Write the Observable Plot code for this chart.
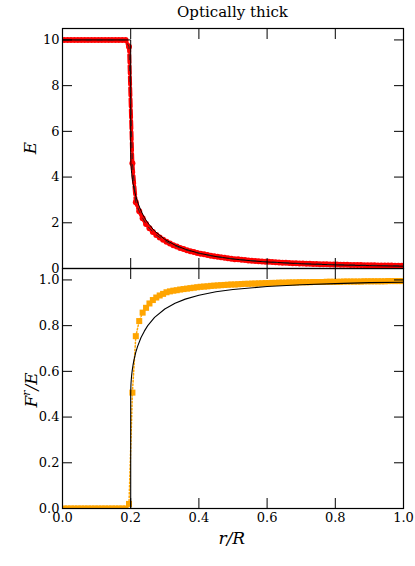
<!DOCTYPE html>
<html><head><meta charset="utf-8">
<script src="https://cdn.jsdelivr.net/npm/d3@7"></script>
<script src="https://cdn.jsdelivr.net/npm/@observablehq/plot@0.6"></script>
<style>
body{margin:0;background:#fff;}
#wrap{position:relative;width:415px;height:566px;font-family:"DejaVu Serif","Liberation Serif",serif;color:#000;overflow:hidden;}
#title{position:absolute;left:62px;width:341px;top:3px;text-align:center;font-size:15px;}
.lab{position:absolute;font-style:italic;font-size:17px;white-space:nowrap;transform-origin:center;}
#p1,#p2{position:absolute;left:0;}
#p1{top:0;z-index:2;}
#p2{top:268px;z-index:1;}
</style></head>
<body><div id="wrap">
<div id="title">Optically thick</div>
<div id="p2"></div>
<div id="p1"></div>
<div class="lab" id="ly1">E</div>
<div class="lab" id="ly2">F<span style="font-size:11px;position:relative;top:-7px">r</span>/E</div>
<div class="lab" id="lx">r/R</div>
</div>
<script>
// numerical solution grid (cell centres)
const rGrid = [0.005,0.015,0.025,0.035,0.045,0.055,0.065,0.075,0.085,0.095,
0.105,0.115,0.125,0.135,0.145,0.155,0.165,0.175,0.185,0.195,
0.205,0.215,0.225,0.235,0.245,0.255,0.265,0.275,0.285,0.295,
0.305,0.315,0.325,0.335,0.345,0.355,0.365,0.375,0.385,0.395,
0.405,0.415,0.425,0.435,0.445,0.455,0.465,0.475,0.485,0.495,
0.505,0.515,0.525,0.535,0.545,0.555,0.565,0.575,0.585,0.595,
0.605,0.615,0.625,0.635,0.645,0.655,0.665,0.675,0.685,0.695,
0.705,0.715,0.725,0.735,0.745,0.755,0.765,0.775,0.785,0.795,
0.805,0.815,0.825,0.835,0.845,0.855,0.865,0.875,0.885,0.895,
0.905,0.915,0.925,0.935,0.945,0.955,0.965,0.975,0.985,0.995];
// numerical E
const eNum = [10,10,10,10,10,10,10,10,10,10,
10,10,10,10,10,10,10,10,10,9.7,
4.6,2.9,2.5,2.2,1.95,1.76,1.6,1.47,1.36,1.26,
1.17,1.09,1.02,0.96,0.90,0.85,0.80,0.76,0.72,0.68,
0.65,0.62,0.59,0.56,0.54,0.51,0.49,0.47,0.45,0.43,
0.41,0.40,0.38,0.37,0.355,0.34,0.33,0.32,0.31,0.30,
0.29,0.28,0.27,0.26,0.255,0.248,0.24,0.234,0.228,0.222,
0.216,0.211,0.206,0.201,0.196,0.191,0.187,0.182,0.178,0.174,
0.170,0.167,0.163,0.160,0.157,0.154,0.151,0.148,0.145,0.143,
0.140,0.138,0.135,0.133,0.131,0.129,0.127,0.125,0.123,0.121];
// numerical F^r/E
const fNum = [0,0,0,0,0,0,0,0,0,0,
0,0,0,0,0,0,0,0,0,0.02,
0.507,0.754,0.82,0.857,0.878,0.897,0.912,0.923,0.932,0.939,
0.946,0.950,0.953,0.955,0.958,0.960,0.962,0.964,0.966,0.968,
0.970,0.971,0.972,0.974,0.975,0.976,0.977,0.978,0.979,0.980,
0.980,0.981,0.982,0.983,0.983,0.984,0.984,0.985,0.985,0.986,
0.986,0.987,0.987,0.988,0.988,0.988,0.989,0.989,0.989,0.990,
0.990,0.990,0.990,0.991,0.991,0.991,0.991,0.992,0.992,0.992,
0.992,0.992,0.993,0.993,0.993,0.993,0.993,0.993,0.994,0.994,
0.994,0.994,0.994,0.994,0.994,0.995,0.995,0.995,0.995,0.995];
// exact solution
const rExact = [0,0.2,0.2,0.2005,0.201,0.202,0.203,0.205,0.207,0.21,0.215,0.22,0.23,0.24,0.25,0.27,0.3,0.33,0.36,0.4,0.45,0.5,0.55,0.6,0.7,0.8,0.9,1.0];
const eExact = [10,10,5,4.647,4.502,4.298,4.144,3.902,3.711,3.476,3.165,2.917,2.531,2.236,2.0,1.641,1.273,1.023,0.842,0.670,0.521,0.417,0.342,0.286,0.208,0.159,0.125,0.101];
const fExact = [0,0,0.5,0.535,0.550,0.570,0.586,0.610,0.629,0.652,0.684,0.708,0.747,0.776,0.800,0.836,0.873,0.898,0.916,0.933,0.948,0.958,0.965,0.971,0.979,0.984,0.988,0.990];

const xTicks = [0,0.2,0.4,0.6,0.8,1.0];
const eTicks = [0,2,4,6,8,10];
const fTicks = [0,0.2,0.4,0.6,0.8,1.0];

const num = rGrid.map((r,i)=>({r, E:eNum[i], F:fNum[i]}));
const ex = rExact.map((r,i)=>({r, E:eExact[i], F:fExact[i]}));
const fmt = d3.format(".1f");

const common = {width:415, marginLeft:62, marginRight:12,
  style:{fontFamily:'"DejaVu Serif", "Liberation Serif", serif', fontSize:"13px", overflow:"visible", background:"transparent", color:"black"}};

const p1 = Plot.plot({...common, height:268, marginTop:28, marginBottom:0,
  x:{domain:[0,1]}, y:{domain:[0,10.5]},
  marks:[
    Plot.line(num,{x:"r",y:"E",stroke:"red",strokeWidth:4,strokeDasharray:"8,3",clip:true}),
    Plot.dot(num,{x:"r",y:"E",fill:"red",r:3,clip:true}),
    Plot.line(ex,{x:"r",y:"E",stroke:"black",strokeWidth:1,clip:true}),
    Plot.line(num,{x:"r",y:"E",stroke:"#222",strokeWidth:0.9,strokeDasharray:"5,6",clip:true}),
    Plot.frame({stroke:"black",strokeWidth:1.2}),
    Plot.axisX(xTicks,{anchor:"bottom",tickSize:-10,fill:null,label:null}),
    Plot.axisX(xTicks,{anchor:"top",tickSize:-10,fill:null,label:null}),
    Plot.axisY(eTicks,{anchor:"left",tickSize:-10,fill:null,label:null}),
    Plot.axisY(eTicks,{anchor:"right",tickSize:-10,fill:null,label:null}),
    Plot.axisY(eTicks,{anchor:"left",tickSize:0,tickPadding:3,label:null})
  ]});
document.getElementById("p1").appendChild(p1);

const p2 = Plot.plot({...common, height:298, marginTop:0, marginBottom:58,
  x:{domain:[0,1]}, y:{domain:[0,1.05]},
  marks:[
    Plot.line(num,{x:"r",y:"F",stroke:"orange",strokeWidth:1.5,strokeDasharray:"1.5,2",clip:true}),
    Plot.dot(num,{x:"r",y:"F",fill:"orange",symbol:"square",r:3.4,clip:true}),
    Plot.line(ex,{x:"r",y:"F",stroke:"black",strokeWidth:1.1,clip:true}),
    Plot.frame({stroke:"black",strokeWidth:1.2}),
    Plot.axisX(xTicks,{anchor:"bottom",tickSize:-10,fill:null,label:null}),
    Plot.axisX(xTicks,{anchor:"top",tickSize:-10,fill:null,label:null}),
    Plot.axisY(fTicks,{anchor:"left",tickSize:-10,fill:null,label:null}),
    Plot.axisY(fTicks,{anchor:"right",tickSize:-10,fill:null,label:null}),
    Plot.axisY(fTicks,{anchor:"left",tickSize:0,tickPadding:3,tickFormat:fmt,label:null}),
    Plot.axisX(xTicks,{anchor:"bottom",tickSize:0,tickPadding:4,tickFormat:fmt,label:null})
  ]});
document.getElementById("p2").appendChild(p2);

function place(id, cx, cy, rot){
  const el = document.getElementById(id);
  const w = el.offsetWidth, h = el.offsetHeight;
  el.style.left = (cx - w/2) + "px";
  el.style.top = (cy - h/2) + "px";
  if (rot) el.style.transform = "rotate(" + rot + "deg)";
}
place("ly1", 30, 148, -90);
place("ly2", 30, 390, -90);
place("lx", 232, 538, 0);
</script>
</body></html>
